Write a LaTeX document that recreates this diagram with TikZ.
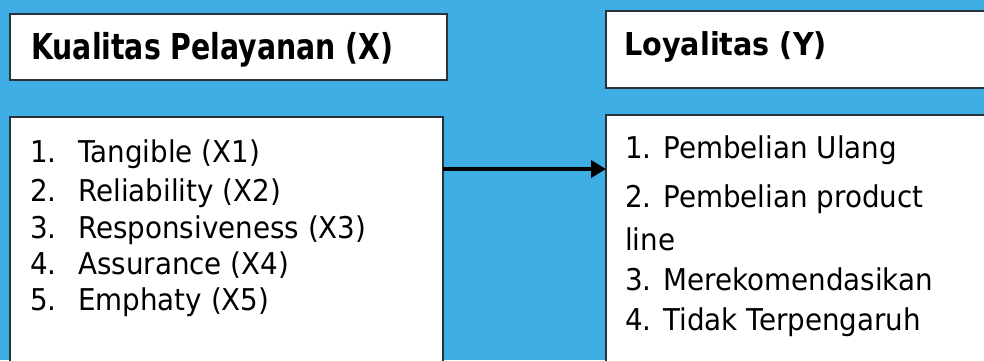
\documentclass[tikz,border=0pt]{standalone}
\usepackage{fontspec}
\usetikzlibrary{arrows.meta}
\newfontfamily\listfont[FakeStretch=0.925]{DejaVu Sans}
\newfontfamily\headXfont[FakeStretch=0.794]{DejaVu Sans}
\newfontfamily\headYfont[FakeStretch=0.91]{DejaVu Sans}
\definecolor{slideblue}{RGB}{62,174,228}
\definecolor{framecol}{RGB}{40,50,60}
\begin{document}
\begin{tikzpicture}[x=1pt,y=-1pt,
  panel/.style={draw=framecol, line width=1.2pt, fill=white, inner sep=0pt,
    outer sep=0pt, anchor=north west},
  headX/.style={anchor=base west, inner sep=0pt,
    font=\headXfont\bfseries\fontsize{35.7}{40}\selectfont},
  headY/.style={anchor=base west, inner sep=0pt,
    font=\headYfont\bfseries\fontsize{31.5}{36}\selectfont},
  item/.style={anchor=base west, inner sep=0pt,
    font=\listfont\fontsize{30}{36}\selectfont},
  link/.style={line width=4pt, -{Triangle[length=15pt,width=17pt]}}]
\fill[slideblue] (0,0) rectangle (984,360);
\useasboundingbox (0,0) rectangle (984,360);
\begin{scope}
\clip (0,0) rectangle (984,360);
% heading panels
\node[panel, minimum width=437pt, minimum height=66pt] (headXbox) at (10,14) {};
\node[panel, minimum width=400pt, minimum height=77pt] (headYbox) at (606,11) {};
% list panels
\node[panel, minimum width=433pt, minimum height=260pt] (itemsX) at (10,117) {};
\node[panel, minimum width=400pt, minimum height=260pt] (itemsY) at (606,115) {};
% headings
\node[headX] (headXtext) at (31,59) {Kualitas Pelayanan (X)};
\node[headY] (headYtext) at (624,55) {Loyalitas (Y)};
% service quality items
\node[item] (x1) at (30,162) {\makebox[48pt][l]{1.}Tangible (X1)};
\node[item] (x2) at (30,201) {\makebox[48pt][l]{2.}Reliability (X2)};
\node[item] (x3) at (30,238) {\makebox[48pt][l]{3.}Responsiveness (X3)};
\node[item] (x4) at (30,274) {\makebox[48pt][l]{4.}Assurance (X4)};
\node[item] (x5) at (30,310) {\makebox[48pt][l]{5.}Emphaty (X5)};
% loyalty items
\node[item] (y1) at (625,158) {1. Pembelian Ulang};
\node[item] (y2) at (625,207) {2. Pembelian product};
\node[item] (y2b) at (625,250) {line};
\node[item] (y3) at (625,290) {3. Merekomendasikan};
\node[item] (y4) at (625,330) {4. Tidak Terpengaruh};
% connector
\coordinate (arrowrow) at (0,169);
\draw[link] (itemsX.east |- arrowrow) -- (itemsY.west |- arrowrow);
\end{scope}
\end{tikzpicture}
\end{document}
